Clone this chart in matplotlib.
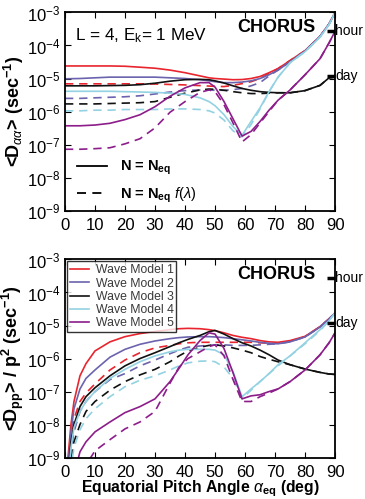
import numpy as np
import matplotlib
matplotlib.use('Agg')
import matplotlib.pyplot as plt
from matplotlib.lines import Line2D

plt.rcParams['font.family'] = ['Liberation Sans', 'DejaVu Sans']
plt.rcParams['mathtext.fontset'] = 'custom'
plt.rcParams['mathtext.rm'] = 'Liberation Sans'
plt.rcParams['mathtext.it'] = 'Liberation Sans:italic'
plt.rcParams['mathtext.bf'] = 'Liberation Sans:bold'

# ---- data: pitch angle grids (deg) ----
x_top = [0, 5, 10, 15, 20, 25, 30, 35, 40, 45, 48, 50, 53, 56, 59, 62, 65, 68, 71, 75, 80, 85, 88, 90]
x_bot = [0.5, 1, 2, 3, 5, 7, 10, 15, 20, 25, 30, 35, 38, 41, 45, 48, 50, 53, 56, 59, 62, 65, 68, 71, 75, 80, 85, 88, 90]

model_names = ['Wave Model 1', 'Wave Model 2', 'Wave Model 3', 'Wave Model 4', 'Wave Model 5']
model_colors = ['#e8252e', '#6b63ad', '#111111', '#93d2e2', '#8c1d8a']

# <D_aa>, N = N_eq (solid)
daa_m1 = [2.4e-5, 2.4e-5, 2.4e-5, 2.4e-5, 2.35e-5, 2.2e-5, 2.05e-5, 1.8e-5, 1.5e-5, 1.2e-5, 1.05e-5, 1.0e-5,
          9.6e-6, 9.2e-6, 9.3e-6, 1.0e-5, 1.15e-5, 1.5e-5, 2.0e-5, 3.5e-5, 7e-5, 1.9e-4, 4.5e-4, 1e-3]
daa_m2 = [9.8e-6, 1.0e-5, 1.05e-5, 1.1e-5, 1.1e-5, 1.1e-5, 1.1e-5, 1.05e-5, 1.0e-5, 9.2e-6, 8.5e-6, 8e-6,
          7.5e-6, 7.5e-6, 7.8e-6, 8.5e-6, 1.0e-5, 1.3e-5, 1.8e-5, 3.2e-5, 6.8e-5, 1.9e-4, 4.5e-4, 1e-3]
daa_m3 = [6e-6, 6e-6, 6e-6, 6.1e-6, 6.2e-6, 6.5e-6, 7.2e-6, 8.3e-6, 9.2e-6, 9.4e-6, 9.2e-6, 8.5e-6,
          7.3e-6, 6e-6, 5e-6, 4.4e-6, 4e-6, 3.8e-6, 3.7e-6, 3.7e-6, 4.3e-6, 6.2e-6, 1.05e-5, 1.1e-5]
daa_m4 = [4.1e-6, 4.1e-6, 4.1e-6, 4.1e-6, 4.0e-6, 3.9e-6, 3.8e-6, 3.6e-6, 3.3e-6, 2.6e-6, 2.0e-6, 1.5e-6,
          8e-7, 3.5e-7, 1.9e-7, 5e-7, 1.3e-6, 4e-6, 1.1e-5, 3e-5, 6.5e-5, 1.8e-4, 4.3e-4, 1e-3]
daa_m5 = [3.7e-7, 3.7e-7, 3.9e-7, 4.4e-7, 5.7e-7, 8e-7, 1.4e-6, 2.9e-6, 5.2e-6, 7.5e-6, 7.5e-6, 5.5e-6,
          2e-6, 6e-7, 1.8e-7, 2.5e-7, 5e-7, 1.1e-6, 2.2e-6, 4.5e-6, 1.3e-5, 4e-5, 1.2e-4, 2.7e-4]

# <D_aa>, N = N_eq f(lambda) (dashed)
daa_f_m1 = [6.9e-6, 6.9e-6, 6.9e-6, 6.9e-6, 6.9e-6, 6.9e-6, 6.8e-6, 6.6e-6, 6.4e-6, 6.1e-6, 5.9e-6, 5.8e-6,
            5.7e-6, 6.2e-6, 7e-6, 8e-6, 1.0e-5, 1.4e-5, 2e-5, 3.5e-5, 7e-5, 1.9e-4, 4.5e-4, 1e-3]
daa_f_m2 = [2.5e-6, 2.5e-6, 2.6e-6, 2.7e-6, 2.8e-6, 3.0e-6, 3.4e-6, 3.9e-6, 4.3e-6, 4.5e-6, 4.5e-6, 4.4e-6,
            4.4e-6, 4.6e-6, 5e-6, 6e-6, 7.5e-6, 1.2e-5, 1.8e-5, 3.2e-5, 6.8e-5, 1.9e-4, 4.5e-4, 1e-3]
daa_f_m3 = [1.7e-6, 1.7e-6, 1.7e-6, 1.75e-6, 1.8e-6, 1.85e-6, 2.0e-6, 2.7e-6, 3.6e-6, 4.5e-6, 4.8e-6, 4.7e-6,
            4.4e-6, 4.0e-6, 3.7e-6, 3.5e-6, 3.5e-6, 3.6e-6, 3.7e-6, 3.7e-6, 4.3e-6, 6.2e-6, 1.05e-5, 1.1e-5]
daa_f_m4 = [1.05e-6, 1.05e-6, 1.1e-6, 1.1e-6, 1.15e-6, 1.15e-6, 1.15e-6, 1.2e-6, 1.2e-6, 1.15e-6, 1.05e-6, 9e-7,
            5.5e-7, 2.6e-7, 1.7e-7, 4e-7, 1.2e-6, 4e-6, 1.1e-5, 3e-5, 6.5e-5, 1.8e-4, 4.3e-4, 1e-3]
daa_f_m5 = [7.2e-8, 7.2e-8, 7.5e-8, 8e-8, 1.05e-7, 1.5e-7, 3.2e-7, 9.5e-7, 2e-6, 3.8e-6, 4.5e-6, 4.0e-6,
            1.6e-6, 4.5e-7, 1.2e-7, 2e-7, 4.5e-7, 1e-6, 2.2e-6, 4.5e-6, 1.3e-5, 4e-5, 1.2e-4, 2.7e-4]

# <D_pp>/p^2, N = N_eq (solid)
dpp_m1 = [1e-11, 1e-9, 1e-8, 5e-8, 3e-7, 7e-7, 1.7e-6, 3.2e-6, 4.6e-6, 5.7e-6, 6.6e-6, 7.5e-6, 8e-6, 8.2e-6,
          8e-6, 7.5e-6, 7e-6, 6e-6, 5e-6, 4.4e-6, 4e-6, 3.5e-6, 3.2e-6, 3.1e-6, 3.5e-6, 4.7e-6, 9.3e-6, 1.6e-5, 2.4e-5]
dpp_m2 = [1e-11, 5e-10, 6e-9, 3e-8, 1.2e-7, 2.5e-7, 4.5e-7, 1.1e-6, 1.9e-6, 2.7e-6, 3.4e-6, 4e-6, 4.3e-6, 4.5e-6,
          4.6e-6, 4.6e-6, 4.5e-6, 4.3e-6, 4e-6, 3.7e-6, 3.4e-6, 3.1e-6, 2.9e-6, 2.8e-6, 3.2e-6, 4.5e-6, 9e-6, 1.6e-5, 2.4e-5]
dpp_m3 = [1e-11, 3e-10, 3e-9, 1e-8, 3.5e-8, 7e-8, 1.3e-7, 3e-7, 6e-7, 1e-6, 1.5e-6, 2.3e-6, 3e-6, 3.8e-6,
          5e-6, 6.5e-6, 7.1e-6, 5.5e-6, 4e-6, 3e-6, 2.4e-6, 1.8e-6, 1.3e-6, 9e-7, 6.5e-7, 4.8e-7, 3.8e-7, 3.4e-7, 3.3e-7]
dpp_m4 = [1e-11, 2e-10, 2e-9, 8e-9, 2.5e-8, 5e-8, 1e-7, 2.5e-7, 4.7e-7, 8e-7, 1.2e-6, 1.6e-6, 1.8e-6, 1.9e-6,
          1.9e-6, 1.9e-6, 1.8e-6, 1.3e-6, 4e-7, 7e-8, 1.2e-7, 2e-7, 3.5e-7, 6.5e-7, 1.2e-6, 3e-6, 7.5e-6, 1.4e-5, 2.4e-5]
dpp_m5 = [1e-12, 1e-12, 1e-11, 3e-10, 1.5e-9, 3e-9, 6e-9, 1.2e-8, 2.3e-8, 3.5e-8, 6e-8, 2e-7, 5e-7, 1.3e-6,
          3.5e-6, 6e-6, 5.5e-6, 2e-6, 3.7e-7, 6e-8, 7.4e-8, 8e-8, 1e-7, 1.2e-7, 2e-7, 4.5e-7, 1.3e-6, 3e-6, 6e-6]

# <D_pp>/p^2, N = N_eq f(lambda) (dashed)
dpp_f_m1 = [1e-11, 5e-10, 5e-9, 1.5e-8, 5e-8, 9e-8, 1.7e-7, 4.5e-7, 9e-7, 1.5e-6, 2.1e-6, 2.5e-6, 2.8e-6, 3e-6,
            3.1e-6, 3.1e-6, 3.1e-6, 3.1e-6, 3.1e-6, 3.1e-6, 3.1e-6, 3e-6, 2.9e-6, 2.9e-6, 3.3e-6, 4.6e-6, 9.2e-6, 1.6e-5, 2.4e-5]
dpp_f_m2 = [1e-11, 1e-10, 1.5e-9, 6e-9, 2.5e-8, 5e-8, 1e-7, 2.3e-7, 3.5e-7, 6e-7, 9e-7, 1.4e-6, 1.8e-6, 2.2e-6,
            2.4e-6, 2.5e-6, 2.6e-6, 2.6e-6, 2.5e-6, 2.5e-6, 2.5e-6, 2.6e-6, 2.7e-6, 2.8e-6, 3.2e-6, 4.5e-6, 9e-6, 1.6e-5, 2.4e-5]
dpp_f_m3 = [1e-11, 5e-11, 8e-10, 3e-9, 1e-8, 2.5e-8, 5e-8, 1.1e-7, 2e-7, 3.2e-7, 4.7e-7, 8e-7, 1.2e-6, 1.7e-6,
            2.2e-6, 2.5e-6, 2.6e-6, 2.4e-6, 2.1e-6, 1.8e-6, 1.5e-6, 1.15e-6, 9.5e-7, 8e-7, 6.5e-7, 4.8e-7, 3.8e-7, 3.4e-7, 3.3e-7]
dpp_f_m4 = [1e-11, 5e-11, 5e-10, 2e-9, 7e-9, 1.5e-8, 3e-8, 7e-8, 1.4e-7, 2.2e-7, 3e-7, 4.5e-7, 6e-7, 7.4e-7,
            8.3e-7, 8.5e-7, 8e-7, 5.5e-7, 2.5e-7, 6e-8, 1.1e-7, 2e-7, 3.5e-7, 6e-7, 1.2e-6, 2.8e-6, 7e-6, 1.4e-5, 2.4e-5]
dpp_f_m5 = [1e-12, 1e-12, 1e-12, 1e-11, 1e-10, 6e-10, 1.6e-9, 3.5e-9, 7.4e-9, 1.2e-8, 2.5e-8, 1.8e-7, 5.5e-7, 1e-6,
            1.6e-6, 2.3e-6, 2.6e-6, 1.2e-6, 2.3e-7, 5e-8, 5e-8, 7e-8, 9e-8, 1.2e-7, 2e-7, 4.5e-7, 1.3e-6, 3e-6, 6e-6]

daa_solid = [daa_m1, daa_m2, daa_m3, daa_m4, daa_m5]
daa_dash = [daa_f_m1, daa_f_m2, daa_f_m3, daa_f_m4, daa_f_m5]
dpp_solid = [dpp_m1, dpp_m2, dpp_m3, dpp_m4, dpp_m5]
dpp_dash = [dpp_f_m1, dpp_f_m2, dpp_f_m3, dpp_f_m4, dpp_f_m5]

rate_marks = {'hour': 1 / 3600., 'day': 1 / 86400.}

fig = plt.figure(figsize=(3.65, 4.99), dpi=100)
ax1 = fig.add_axes([0.178, 0.578, 0.740, 0.397])
ax2 = fig.add_axes([0.178, 0.083, 0.740, 0.397])

dash = (0, (5, 3.5))
for ax, x, solid, dashed in [(ax1, x_top, daa_solid, daa_dash), (ax2, x_bot, dpp_solid, dpp_dash)]:
    for ys, yd, c, name in zip(solid, dashed, model_colors, model_names):
        ax.plot(x, yd, color=c, lw=1.2, linestyle=dash)
        ax.plot(x, ys, color=c, lw=1.2, label=name)
    ax.set_yscale('log')
    ax.set_xlim(0, 90)
    ax.set_ylim(1e-9, 1e-3)
    ax.set_xticks(range(0, 91, 10))
    ax.set_yticks([10.0 ** k for k in range(-9, -2)])
    ax.minorticks_off()
    ax.tick_params(direction='in', top=True, right=True, labelsize=12, length=4, width=0.8)
    ax.tick_params(axis='x', pad=5)
    ax.tick_params(axis='y', pad=3)
    for sp in ax.spines.values():
        sp.set_linewidth(1.3)
    ax.text(0.926, 0.925, 'CHORUS', transform=ax.transAxes, ha='right', va='center',
            fontsize=13, fontweight='bold')
    for lab, val in rate_marks.items():
        ax.plot([87.3, 90], [val, val], color='black', lw=2.5, clip_on=False, solid_capstyle='butt')
        ax.text(90.1, val, lab, ha='left', va='center', fontsize=10, clip_on=False)

ax1.text(0.037, 0.885, 'L = 4, E$_\\mathrm{k}$= 1 MeV', transform=ax1.transAxes, ha='left', va='center', fontsize=12.3)
ax1.set_ylabel('<D$_{\\alpha\\alpha}$> (sec$^{\\mathbf{-1}}$)', fontsize=13, fontweight='bold', labelpad=1)
ax2.set_ylabel('<D$_{\\mathbf{pp}}$> / p$^{\\mathbf{2}}$ (sec$^{\\mathbf{-1}}$)', fontsize=13, fontweight='bold', labelpad=1)
ax2.set_xlabel('Equatorial Pitch Angle $\\alpha_{\\mathbf{eq}}$ (deg)', fontsize=11.3, fontweight='bold', labelpad=-0.5)

h_style = [Line2D([], [], color='black', lw=1.3), Line2D([], [], color='black', lw=1.3, linestyle=dash)]
leg1 = ax1.legend(h_style, ['N = N$_{\\mathbf{eq}}$', 'N = N$_{\\mathbf{eq}}$ $f(\\lambda)$'], loc='lower left',
                  frameon=False, prop={'weight': 'bold', 'size': 10.5}, handlelength=2.1, handletextpad=0.9,
                  borderaxespad=0, labelspacing=0.55, bbox_to_anchor=(0.022, 0.0))

leg2 = ax2.legend(loc='upper left', fontsize=8.8, handlelength=1.6, borderaxespad=0.15, labelspacing=0.1,
                  fancybox=False, edgecolor='black', borderpad=0.25, handletextpad=0.5)
leg2.get_frame().set_linewidth(1.0)
for t in leg2.get_texts():
    t.set_color('#3a3a3a')

fig.savefig('out.png', dpi=100)
